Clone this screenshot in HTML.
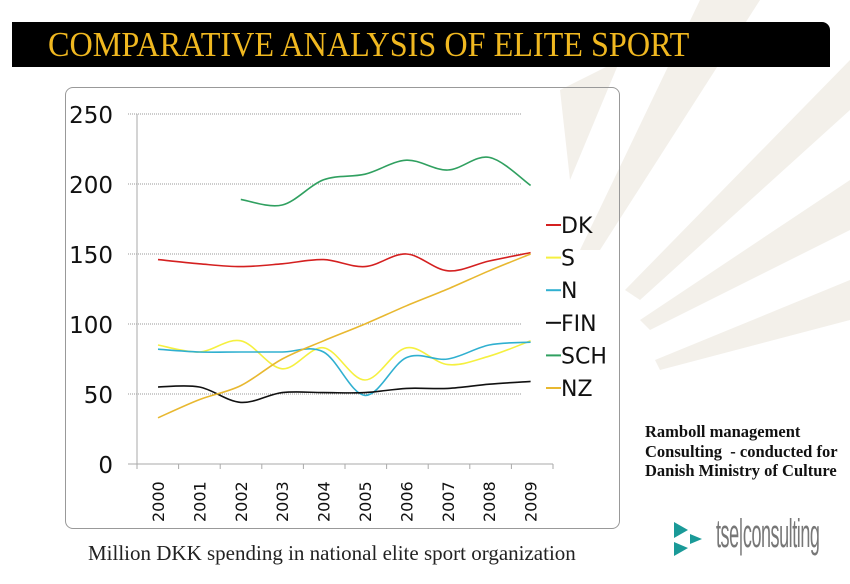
<!DOCTYPE html>
<html><head><meta charset="utf-8">
<style>
body{margin:0;width:850px;height:584px;overflow:hidden;background:#fff;position:relative;font-family:"Liberation Sans",sans-serif}
.bar{position:absolute;left:12px;top:22px;width:818px;height:45px;background:#000;border-radius:0 8px 0 0}
.title{position:absolute;left:48px;top:25px;font-family:"Liberation Serif",serif;font-size:35px;color:#f0b820;transform:scaleX(0.92);transform-origin:left top;white-space:nowrap}
.box{position:absolute;left:65px;top:87px;width:553px;height:440px;border:1px solid #999;border-radius:8px}
.note{position:absolute;left:645px;top:422px;font-family:"Liberation Serif",serif;font-weight:bold;font-size:16.5px;line-height:19.5px;color:#111;white-space:nowrap}
.cap{position:absolute;left:88px;top:541px;font-family:"Liberation Serif",serif;font-size:21px;color:#222;white-space:nowrap}
.tse{position:absolute;left:716px;top:512px;font-family:"Liberation Sans",sans-serif;font-size:40px;color:#777;transform:scaleX(0.45);transform-origin:left top;letter-spacing:-1px;white-space:nowrap}
</style></head><body>
<svg width="850" height="584" style="position:absolute;left:0;top:0">
<g fill="#f3f0ea">
<polygon points="700,0 760,0 600,250 580,250"/>
<polygon points="850,60 850,110 640,300 625,290"/>
<polygon points="850,180 850,230 650,330 640,320"/>
<polygon points="850,280 850,320 660,370 655,360"/>
<polygon points="560,90 620,60 570,180"/>
</g>
</svg>
<div class="bar"></div>
<div class="title">COMPARATIVE ANALYSIS OF ELITE SPORT</div>
<div class="box"></div>
<svg id="ch" width="850" height="584" style="position:absolute;left:0;top:0" font-family="DejaVu Sans, sans-serif"></svg>
<div class="note">Ramboll management<br>Consulting&nbsp; - conducted for<br>Danish Ministry of Culture</div>
<div class="cap">Million DKK spending in national elite sport organization</div>
<svg width="40" height="40" style="position:absolute;left:672px;top:520px">
<polygon points="2,2 16,10 2,18" fill="#1a9a98"/><polygon points="2,22 16,28 2,36" fill="#1a9a98"/><polygon points="18,14 30,19 18,24" fill="#1a9a98"/>
</svg>
<div class="tse">tse|consulting</div>
<script>
var s='';
function Y(v){return 464-1.4*v;}
function X(i){return 158+41.4*i;}
for(var v=50;v<=250;v+=50){s+='<line x1="128" x2="522" y1="'+Y(v)+'" y2="'+Y(v)+'" stroke="#999" stroke-dasharray="1,1"/>';}
s+='<line x1="137" x2="137" y1="114" y2="464" stroke="#aaa"/>';
s+='<line x1="128" x2="553" y1="464" y2="464" stroke="#aaa"/>';
for(var i=0;i<=10;i++){var x=137+41.6*i;s+='<line x1="'+x+'" x2="'+x+'" y1="464" y2="469" stroke="#aaa"/>';}
for(var v=0;v<=250;v+=50){s+='<text x="113" y="'+(Y(v)+9)+'" font-size="23" text-anchor="end" fill="#111">'+v+'</text>';}
for(var i=0;i<10;i++){var x=X(i)+6;s+='<text transform="translate('+x+',522) rotate(-90)" font-size="16" fill="#111">'+(2000+i)+'</text>';}
var ser=[
['#d42020',0,[146,143,141,143,146,141,150,138,145,151]],
['#f5f040',0,[85,80,88,68,83,60,83,71,77,88]],
['#30b0d0',0,[82,80,80,80,80,49,76,75,85,87]],
['#111',0,[55,55,44,51,51,51,54,54,57,59]],
['#30a060',2,[189,185,203,207,217,210,219,199]],
['#e8b830',0,[33,46,56,75,88,100,113,125,138,150]]];
ser.forEach(function(d){var c=d[0],o=d[1],a=d[2];var p=a.map(function(v,k){return [X(k+o),Y(v)]});
var str='M'+p[0][0]+','+p[0][1];
for(var k=0;k<p.length-1;k++){var p0=p[k-1]||p[k],p1=p[k],p2=p[k+1],p3=p[k+2]||p2;
str+=' C'+(p1[0]+(p2[0]-p0[0])/6)+','+(p1[1]+(p2[1]-p0[1])/6)+' '+(p2[0]-(p3[0]-p1[0])/6)+','+(p2[1]-(p3[1]-p1[1])/6)+' '+p2[0]+','+p2[1];}
s+='<path d="'+str+'" fill="none" stroke="'+c+'" stroke-width="1.6"/>';});
var lg=[['DK','#d42020'],['S','#f5f040'],['N','#30b0d0'],['FIN','#111'],['SCH','#30a060'],['NZ','#e8b830']];
lg.forEach(function(l,k){var y=225+32.6*k;s+='<line x1="546" x2="561" y1="'+y+'" y2="'+y+'" stroke="'+l[1]+'" stroke-width="2"/><text x="561" y="'+(y+8)+'" font-size="22" fill="#111">'+l[0]+'</text>';});
document.getElementById('ch').innerHTML=s;
</script>
</body></html>
